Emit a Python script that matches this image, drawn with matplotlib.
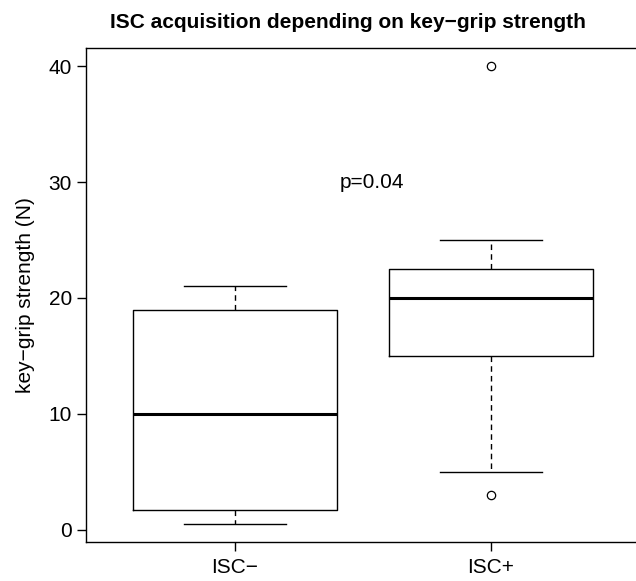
import matplotlib
matplotlib.use("Agg")
import matplotlib.pyplot as plt

plt.rcParams['font.family'] = ['Liberation Sans', 'DejaVu Sans']

# values
groups = ['ISC\u2212', 'ISC+']
whislo = [0.5, 5.0]
q1 = [1.7, 15.0]
med = [10.0, 20.0]
q3 = [19.0, 22.5]
whishi = [21.0, 25.0]
fliers = [[], [3.0, 40.0]]
p_text = 'p=0.04'

stats = []
for i, name in enumerate(groups):
    stats.append({'label': name, 'whislo': whislo[i], 'q1': q1[i], 'med': med[i],
                  'q3': q3[i], 'whishi': whishi[i], 'fliers': fliers[i]})

fig = plt.figure(figsize=(6.36, 5.81), dpi=100)
ax = fig.add_axes([0.136, 0.0663, 0.8695, 0.8516])

ax.bxp(stats, positions=[1, 2], widths=0.8, showfliers=True,
       boxprops=dict(color='black', linewidth=1.0),
       medianprops=dict(color='black', linewidth=2.2),
       whiskerprops=dict(color='black', linewidth=1.0, linestyle=(0, (4, 3))),
       capprops=dict(color='black', linewidth=1.0),
       capwidths=0.4,
       flierprops=dict(marker='o', markerfacecolor='white', markeredgecolor='black',
                       markersize=6, markeredgewidth=0.9))

ax.set_xlim(0.42, 2.58)
ax.set_ylim(-1.08, 41.58)
ax.set_yticks([0, 10, 20, 30, 40])
ax.set_xticks([1, 2])
ax.set_xticklabels(groups)
ax.tick_params(direction='out', length=6.5, width=1.0, labelsize=15, colors='black')
ax.tick_params(axis='y', pad=4)
ax.tick_params(axis='x', pad=5)
for s in ax.spines.values():
    s.set_linewidth(1.0)

ax.set_ylabel('key\u2212grip strength (N)', fontsize=15, labelpad=10)
ax.text(1.535, 30, p_text, ha='center', va='center', fontsize=15)

fig.text(348 / 636, 1 - 22 / 581, 'ISC acquisition depending on key\u2212grip strength',
         ha='center', va='center', fontsize=15, fontweight='bold')

fig.savefig('out.png', dpi=100)
